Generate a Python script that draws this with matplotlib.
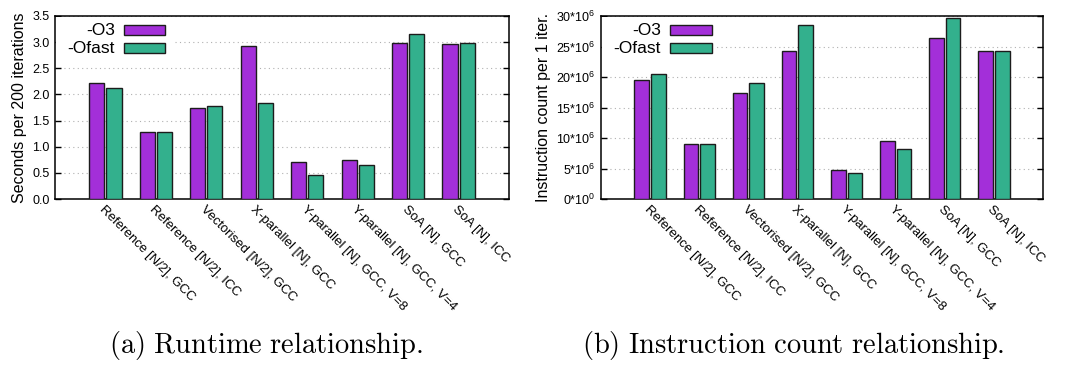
import matplotlib

matplotlib.use("Agg")
import matplotlib.pyplot as plt
import matplotlib.transforms as mtransforms
import numpy as np
from matplotlib.patches import Rectangle
from matplotlib.ticker import FuncFormatter, MultipleLocator

plt.rcParams["font.family"] = ["Liberation Sans", "DejaVu Sans"]

variantes = [
    "Reference [N/2], GCC",
    "Reference [N/2], ICC",
    "Vectorised [N/2], GCC",
    "X-parallel [N], GCC",
    "Y-parallel [N], GCC, V=8",
    "Y-parallel [N], GCC, V=4",
    "SoA [N], GCC",
    "SoA [N], ICC",
]

# segundos por 200 iteraciones
tiempo_o3 = [2.21, 1.29, 1.75, 2.92, 0.71, 0.74, 2.99, 2.97]
tiempo_ofast = [2.13, 1.29, 1.77, 1.84, 0.45, 0.65, 3.16, 2.99]

# instrucciones por iteracion (millones)
instr_o3 = [19.5, 9.07, 17.3, 24.2, 4.8, 9.5, 26.4, 24.2]
instr_ofast = [20.55, 9.07, 18.95, 28.5, 4.2, 8.2, 29.6, 24.2]

series = ["-O3", "-Ofast"]
colores = ["#a32fd9", "#33b08d"]

ANCHO_BARRA = 0.30
DESPLAZAMIENTO = 0.17


def formato_potencia(valor, _pos):
    if abs(valor) < 1e-9:
        return r"$\mathregular{0{*}10^{0}}$"
    return r"$\mathregular{%d{*}10^{6}}$" % round(valor)


def panel(ax, valores_o3, valores_ofast, ylim, paso, ylabel, leyenda_x):
    x = np.arange(len(variantes))
    for valores, color, signo in ((valores_o3, colores[0], -1), (valores_ofast, colores[1], 1)):
        ax.bar(
            x + signo * DESPLAZAMIENTO,
            valores,
            width=ANCHO_BARRA,
            color=color,
            edgecolor="#1c1c1c",
            linewidth=1.0,
            zorder=3,
        )

    ax.set_xlim(-1, len(variantes))
    ax.set_ylim(*ylim)
    ax.yaxis.set_major_locator(MultipleLocator(paso))
    ax.grid(True, axis="y", color="#b0b0b0", linestyle=(0, (1, 3)), linewidth=0.8, zorder=0)
    ax.set_axisbelow(True)

    ax.set_xticks(x)
    ax.set_xticklabels(
        variantes,
        rotation=-45,
        ha="left",
        va="top",
        rotation_mode="anchor",
        fontsize=9.5,
    )
    # desplazar las etiquetas giradas para que arranquen bajo el centro del grupo
    desplazamiento = mtransforms.ScaledTranslation(0.06, 0, ax.figure.dpi_scale_trans)
    for etiqueta in ax.get_xticklabels():
        etiqueta.set_transform(etiqueta.get_transform() + desplazamiento)
    ax.tick_params(axis="x", length=0, pad=3)
    ax.tick_params(axis="y", direction="in", length=4, width=1.0, right=True, labelsize=9, pad=4)
    for lado in ax.spines.values():
        lado.set_linewidth(1.1)
    ax.set_ylabel(ylabel, fontsize=11.5, labelpad=4)

    # leyenda al estilo gnuplot: texto alineado a la derecha y muestra de color
    ax.add_patch(Rectangle((0.003, 0.78), 0.26, 0.215, transform=ax.transAxes,
                           facecolor="white", edgecolor="none", zorder=1))
    texto_x, caja_x, caja_w = leyenda_x
    for nombre, color, y in zip(series, colores, (0.923, 0.825)):
        ax.text(texto_x, y, nombre, transform=ax.transAxes, ha="right", va="center",
                fontsize=12.5, zorder=5)
        ax.add_patch(Rectangle((caja_x, y - 0.026), caja_w, 0.052, transform=ax.transAxes,
                               facecolor=color, edgecolor="#1c1c1c", linewidth=1.0, zorder=5))


fig = plt.figure(figsize=(10.66, 3.65), dpi=100)
ax_a = fig.add_axes([55 / 1066, 166 / 365, 454 / 1066, 183 / 365])
ax_b = fig.add_axes([601 / 1066, 166 / 365, 442 / 1066, 183 / 365])

panel(ax_a, tiempo_o3, tiempo_ofast, (0, 3.5), 0.5, "Seconds per 200 iterations",
      (0.132, 0.152, 0.090))
ax_a.yaxis.set_major_formatter(FuncFormatter(lambda v, _p: f"{v:.1f}"))

panel(ax_b, instr_o3, instr_ofast, (0, 30), 5, "Instruction count per 1 iter.",
      (0.135, 0.156, 0.095))
ax_b.yaxis.set_major_formatter(FuncFormatter(formato_potencia))

fig.text(266 / 1066, 1 - 346 / 365, r"$\mathrm{(a)\ Runtime\ relationship.}$",
         ha="center", va="center", fontsize=20.5, math_fontfamily="cm")
fig.text(793 / 1066, 1 - 346 / 365, r"$\mathrm{(b)\ Instruction\ count\ relationship.}$",
         ha="center", va="center", fontsize=20.5, math_fontfamily="cm")

fig.savefig("out.png", dpi=100, facecolor="white")
